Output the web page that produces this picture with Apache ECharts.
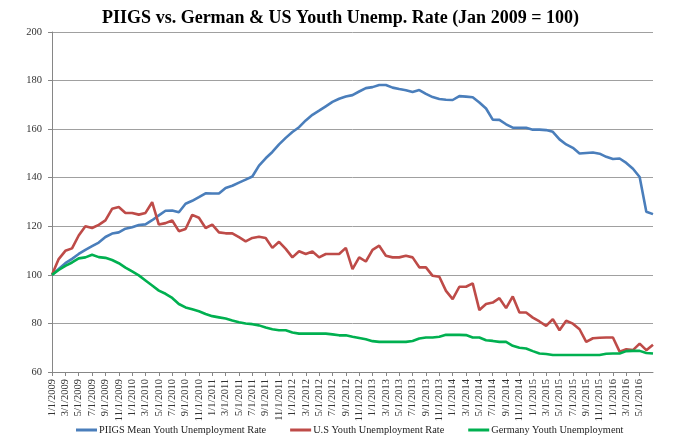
<!DOCTYPE html>
<html>
<head>
<meta charset="utf-8">
<script src="https://cdn.jsdelivr.net/npm/echarts@6/dist/echarts.min.js"></script>
<style>html,body{margin:0;padding:0;background:#fff}#c{width:681px;height:443px}</style>
</head>
<body>
<div id="c"></div>
<script>
var chartTitle = 'PIIGS vs. German & US Youth Unemp. Rate (Jan 2009 = 100)';
var seriesNames = ['PIIGS Mean Youth Unemployment Rate', 'U.S Youth Unemployment Rate', 'Germany Youth Unemployment'];
var months = [
'1/1/2009','2/1/2009','3/1/2009','4/1/2009','5/1/2009','6/1/2009','7/1/2009','8/1/2009','9/1/2009','10/1/2009','11/1/2009','12/1/2009',
'1/1/2010','2/1/2010','3/1/2010','4/1/2010','5/1/2010','6/1/2010','7/1/2010','8/1/2010','9/1/2010','10/1/2010','11/1/2010','12/1/2010',
'1/1/2011','2/1/2011','3/1/2011','4/1/2011','5/1/2011','6/1/2011','7/1/2011','8/1/2011','9/1/2011','10/1/2011','11/1/2011','12/1/2011',
'1/1/2012','2/1/2012','3/1/2012','4/1/2012','5/1/2012','6/1/2012','7/1/2012','8/1/2012','9/1/2012','10/1/2012','11/1/2012','12/1/2012',
'1/1/2013','2/1/2013','3/1/2013','4/1/2013','5/1/2013','6/1/2013','7/1/2013','8/1/2013','9/1/2013','10/1/2013','11/1/2013','12/1/2013',
'1/1/2014','2/1/2014','3/1/2014','4/1/2014','5/1/2014','6/1/2014','7/1/2014','8/1/2014','9/1/2014','10/1/2014','11/1/2014','12/1/2014',
'1/1/2015','2/1/2015','3/1/2015','4/1/2015','5/1/2015','6/1/2015','7/1/2015','8/1/2015','9/1/2015','10/1/2015','11/1/2015','12/1/2015',
'1/1/2016','2/1/2016','3/1/2016','4/1/2016','5/1/2016','6/1/2016','7/1/2016'
];
var piigs = [
100,102.4,104.8,106.6,108.6,110.3,111.8,113.3,115.6,117,117.5,119,
119.6,120.5,120.8,122.5,124.5,126.4,126.5,125.8,129.3,130.5,132,133.6,
133.5,133.5,135.8,136.7,138,139.2,140.5,145,148,150.6,153.7,156.4,
158.8,160.8,163.6,165.9,167.6,169.4,171.2,172.5,173.4,174,175.5,176.9,
177.3,178.2,178.2,177.1,176.5,176,175.3,176.1,174.5,173.2,172.4,172.1,
172,173.6,173.4,173.1,171,168.5,163.9,163.8,162,160.6,160.6,160.6,
159.8,159.8,159.6,158.9,155.8,153.7,152.3,150,150.2,150.4,149.9,148.6,
147.7,147.9,146.1,143.7,140.3,126,125
];
var usYouth = [
100,106.5,109.9,110.9,116.2,120,119.3,120.6,122.4,127.2,127.9,125.5,
125.5,124.8,125.5,129.9,120.7,121.3,122.4,118,118.9,124.7,123.5,119.3,
120.7,117.5,117.1,117.1,115.5,113.8,115.2,115.7,115.2,111.1,113.6,110.7,
107.2,109.7,108.6,109.6,107.2,108.6,108.6,108.6,111.1,102.4,107.2,105.5,
110.3,112,107.9,107.2,107.2,107.9,107.2,103.1,103.1,99.6,99.2,93.4,
90,95.1,95.1,96.5,85.5,88,88.6,90.4,86.3,91.1,84.5,84.5,
82.4,80.8,79,81.8,77.2,81.1,79.9,77.6,72.4,73.9,74.1,74.2,
74.2,68.4,69.4,69,71.7,69,71.2
];
var germany = [
100,102,103.7,105.1,106.8,107.2,108.3,107.3,107,106.1,104.8,103,
101.4,99.8,97.7,95.6,93.5,92.2,90.5,88,86.6,85.8,85,83.9,
83,82.5,82,81.2,80.5,80,79.7,79.2,78.3,77.6,77.2,77.2,
76.3,75.8,75.8,75.8,75.8,75.8,75.5,75.1,75.1,74.5,74,73.5,
72.7,72.4,72.4,72.4,72.4,72.4,72.8,73.8,74.2,74.2,74.5,75.3,
75.3,75.3,75.2,74.2,74.2,73.1,72.8,72.4,72.4,70.8,70,69.7,
68.6,67.6,67.4,67,67,67,67,67,67,67,67,67.5,
67.6,67.6,68.6,68.7,68.7,67.8,67.6
];
var yMin = 60, yMax = 200, yStep = 20;
var colors = ['#4a7ebb', '#be4b48', '#00b050'];
var serif = '"Liberation Serif", "Times New Roman", serif';

var chart = echarts.init(document.getElementById('c'), null, {renderer: 'canvas'});
function showLabel(i) { return i % 2 === 0 && i <= 88; }
var dataSets = [piigs, usYouth, germany];
chart.setOption({
  animation: false,
  backgroundColor: '#fff',
  title: {
    text: chartTitle, left: 'center', top: 4,
    textStyle: {fontFamily: serif, fontWeight: 'bold', fontSize: 18, color: '#000'}
  },
  grid: {left: 52, right: 28, top: 32, bottom: 71},
  legend: {
    bottom: 3, left: 71, itemGap: 24, itemWidth: 21, itemHeight: 3, icon: 'rect',
    textStyle: {fontFamily: serif, fontSize: 10.3, color: '#222', padding: [0, 0, 0, -3]},
    data: seriesNames
  },
  xAxis: {
    type: 'category', data: months, boundaryGap: false,
    axisLine: {lineStyle: {color: '#868686', width: 1}},
    axisTick: {show: true, interval: showLabel, length: 4, lineStyle: {color: '#868686'}},
    axisLabel: {interval: showLabel, rotate: 90, fontFamily: serif, fontSize: 10.5, color: '#333', margin: 7}
  },
  yAxis: {
    type: 'value', min: yMin, max: yMax, interval: yStep,
    axisLine: {show: true, lineStyle: {color: '#868686'}},
    axisTick: {show: true, length: 4, lineStyle: {color: '#868686'}},
    axisLabel: {fontFamily: serif, fontSize: 10.5, color: '#333', margin: 10},
    splitLine: {lineStyle: {color: '#a0a0a0', width: 1}}
  },
  series: seriesNames.map(function (n, k) {
    return {
      name: n, type: 'line', data: dataSets[k], symbol: 'none',
      lineStyle: {width: 2.6, color: colors[k]}, itemStyle: {color: colors[k]}
    };
  })
});
</script>
</body>
</html>
